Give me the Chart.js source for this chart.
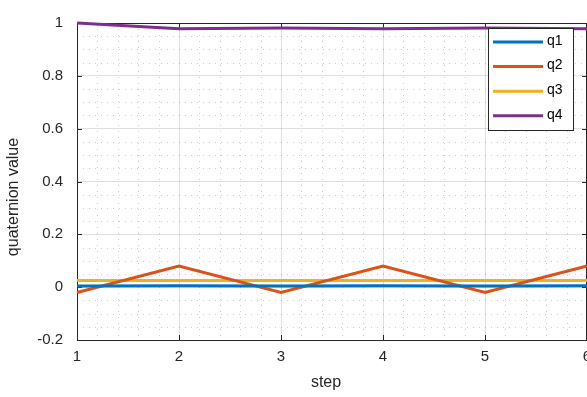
<!DOCTYPE html>
<html>
<head>
<meta charset="utf-8">
<script src="https://cdn.jsdelivr.net/npm/chart.js@4.4.1/dist/chart.umd.min.js"></script>
<style>
html,body{margin:0;padding:0;background:#fff;overflow:hidden;}
#wrap{position:absolute;left:0;top:0;width:600px;height:397px;}
</style>
</head>
<body>
<div id="wrap"><canvas id="c" width="600" height="397"></canvas></div>
<script>
const steps = [1, 2, 3, 4, 5, 6];
const q1 = [0.004, 0.005, 0.004, 0.005, 0.004, 0.005];
const q2 = [-0.02, 0.08, -0.02, 0.08, -0.02, 0.08];
const q3 = [0.025, 0.025, 0.025, 0.025, 0.025, 0.025];
const q4 = [1.0, 0.978, 0.981, 0.978, 0.981, 0.978];
const seriesNames = ['q1', 'q2', 'q3', 'q4'];
const seriesColors = ['#0072BD', '#D95319', '#EDB120', '#7E2F8E'];
const xTitle = 'step';
const yTitle = 'quaternion value';

const FONT = "'Liberation Sans', Arial, Helvetica, sans-serif";
const AX = '#262626';

function pts(arr){ return steps.map((s,i)=>({x:s, y:arr[i]})); }

const datasets = [q1,q2,q3,q4].map((arr,i)=>({
  label: seriesNames[i],
  data: pts(arr),
  borderColor: seriesColors[i],
  backgroundColor: seriesColors[i],
  borderWidth: 3,
  pointRadius: 0,
  tension: 0,
  clip: false
}));

const matlabPlugin = {
  id: 'matlab',
  beforeDatasetsDraw(chart){
    const ctx = chart.ctx, a = chart.chartArea;
    const xs = chart.scales.x, ys = chart.scales.y;
    ctx.save();
    // minor dotted grid
    ctx.strokeStyle = 'rgba(38,38,38,0.22)';
    ctx.lineWidth = 1;
    ctx.setLineDash([1,5]);
    for (let k = 0; k <= 25; k++){
      const v = 1 + k*0.2;
      if (k % 5 === 0) continue;
      const px = Math.round(xs.getPixelForValue(v)) + 0.5;
      ctx.beginPath(); ctx.moveTo(px, a.top); ctx.lineTo(px, a.bottom); ctx.stroke();
    }
    for (let k = 0; k <= 24; k++){
      const v = -0.2 + k*0.05;
      if (k % 4 === 0) continue;
      const py = Math.round(ys.getPixelForValue(v)) + 0.5;
      ctx.beginPath(); ctx.moveTo(a.left, py); ctx.lineTo(a.right, py); ctx.stroke();
    }
    ctx.setLineDash([]);
    // top and right border
    ctx.strokeStyle = AX;
    ctx.beginPath();
    ctx.moveTo(a.left, Math.round(a.top)+0.5); ctx.lineTo(a.right, Math.round(a.top)+0.5);
    ctx.moveTo(Math.round(a.right)-0.5, a.top); ctx.lineTo(Math.round(a.right)-0.5, a.bottom);
    ctx.stroke();
    // inward tick marks
    const tl = 5;
    ctx.beginPath();
    xs.ticks.forEach(t=>{
      const px = Math.round(xs.getPixelForValue(t.value)) + 0.5;
      ctx.moveTo(px, a.bottom); ctx.lineTo(px, a.bottom - tl);
      ctx.moveTo(px, a.top); ctx.lineTo(px, a.top + tl);
    });
    ys.ticks.forEach(t=>{
      const py = Math.round(ys.getPixelForValue(t.value)) + 0.5;
      ctx.moveTo(a.left, py); ctx.lineTo(a.left + tl, py);
      ctx.moveTo(a.right, py); ctx.lineTo(a.right - tl, py);
    });
    ctx.stroke();
    ctx.restore();
  },
  afterDatasetsDraw(chart){
    const ctx = chart.ctx;
    ctx.save();
    // axis titles
    ctx.fillStyle = AX;
    ctx.font = '16px ' + FONT;
    ctx.textAlign = 'center';
    ctx.textBaseline = 'middle';
    ctx.fillText(xTitle, 326, 383);
    ctx.translate(14, 197);
    ctx.rotate(-Math.PI/2);
    ctx.fillText(yTitle, 0, 0);
    ctx.restore();
    // legend
    ctx.save();
    const bx = 488.5, by = 28.5, bw = 85, bh = 102;
    ctx.fillStyle = '#fff';
    ctx.fillRect(bx, by, bw, bh);
    ctx.strokeStyle = AX;
    ctx.lineWidth = 1;
    ctx.strokeRect(bx, by, bw, bh);
    ctx.font = '14px ' + FONT;
    ctx.textAlign = 'left';
    ctx.textBaseline = 'middle';
    chart.data.datasets.forEach((ds,i)=>{
      const y = 42 + i*24.6;
      ctx.strokeStyle = ds.borderColor;
      ctx.lineWidth = 3;
      ctx.beginPath(); ctx.moveTo(493, y); ctx.lineTo(543, y); ctx.stroke();
      ctx.fillStyle = '#000';
      ctx.fillText(ds.label, 547, y - 1);
    });
    ctx.restore();
  }
};

new Chart(document.getElementById('c'), {
  type: 'line',
  data: { datasets },
  options: {
    responsive: false,
    animation: false,
    events: [],
    layout: { padding: { top: 14, right: 13, bottom: 0, left: 0 } },
    plugins: { legend: { display: false }, tooltip: { enabled: false } },
    scales: {
      x: {
        type: 'linear',
        min: 1, max: 6,
        ticks: { stepSize: 1, color: AX, font: { family: FONT, size: 15 }, padding: 8, maxRotation: 0 },
        grid: { color: 'rgba(38,38,38,0.15)', drawTicks: false },
        border: { color: AX, width: 1 },
        afterFit(s){ s.height = 57; }
      },
      y: {
        min: -0.2, max: 1,
        ticks: { stepSize: 0.2, color: AX, font: { family: FONT, size: 15 }, padding: 14,
          callback: v => String(Number(v.toFixed(1))) },
        grid: { color: 'rgba(38,38,38,0.15)', drawTicks: false },
        border: { color: AX, width: 1 },
        afterFit(s){ s.width = 77; }
      }
    }
  },
  plugins: [matlabPlugin]
});
</script>
</body>
</html>
